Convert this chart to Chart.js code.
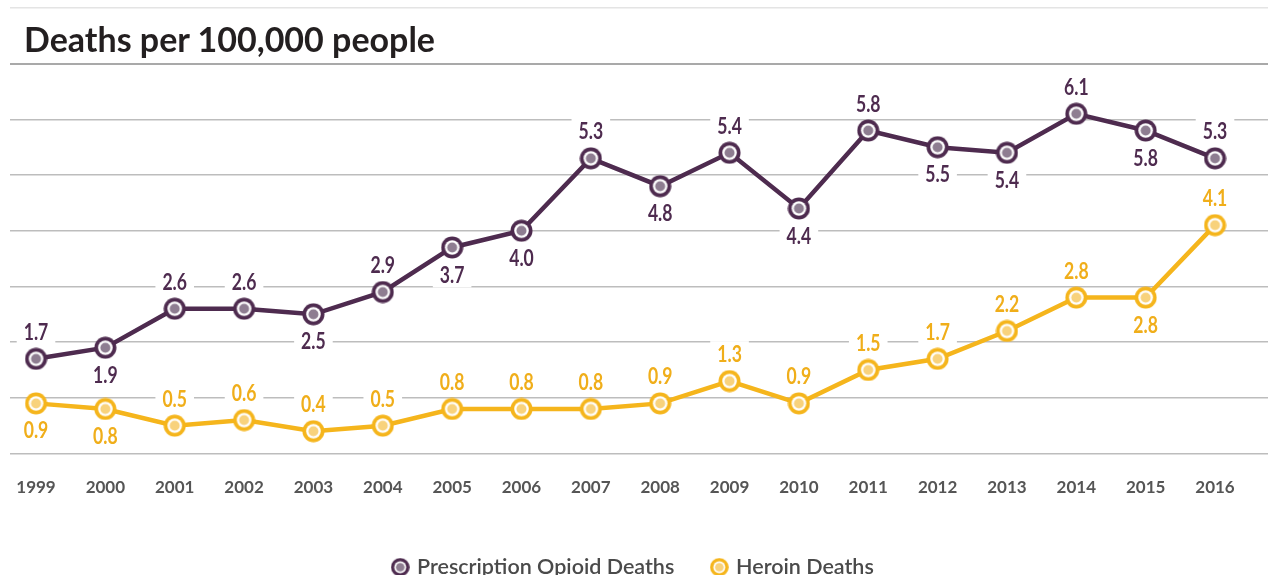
<!DOCTYPE html>
<html>
<head>
<meta charset="utf-8">
<script src="https://cdn.jsdelivr.net/npm/chart.js@4/dist/chart.umd.min.js"></script>
<style>
  html, body { margin:0; padding:0; background:#fff; }
  #wrap { position:relative; width:1268px; height:575px; }
  #title { position:absolute; left:24px; top:19px; font-family:Lato, sans-serif; font-weight:700; font-size:34px; line-height:40px; color:#231f20; z-index:2; }
</style>
</head>
<body>
<div id="wrap">
  <div id="title">Deaths per 100,000 people</div>
  <canvas id="c" width="1268" height="575"></canvas>
</div>
<script>
// ---- data ----
const years = [1999,2000,2001,2002,2003,2004,2005,2006,2007,2008,2009,2010,2011,2012,2013,2014,2015,2016];
const prescriptionDeaths = [1.7,1.9,2.6,2.6,2.5,2.9,3.7,4.0,5.3,4.8,5.4,4.4,5.8,5.5,5.4,6.1,5.8,5.3];
const heroinDeaths = [0.9,0.8,0.5,0.6,0.4,0.5,0.8,0.8,0.8,0.9,1.3,0.9,1.5,1.7,2.2,2.8,2.8,4.1];
const seriesNames = ['Prescription Opioid Deaths','Heroin Deaths'];
const yTicks = [0,1,2,3,4,5,6,7,8];
// label placement (a = above, b = below)
const prescriptionLabelSide = ['a','b','a','a','b','a','b','b','a','b','a','b','a','b','b','a','b','a'];
const heroinLabelSide = ['b','b','a','a','a','a','a','a','a','a','a','a','a','a','a','a','b','a'];

// ---- styles ----
const PURPLE = '#4e2b4f', PURPLE_IN = '#8e7d91';
const YELLOW = '#f5b51c', YELLOW_IN = '#f8d27c';

function makeMarker(outer, inner, size, rOut, rWhite, rIn) {
  const cv = document.createElement('canvas');
  cv.width = size; cv.height = size;
  const g = cv.getContext('2d');
  const c = size / 2;
  g.beginPath(); g.arc(c,c,rOut,0,Math.PI*2); g.fillStyle = outer; g.fill();
  g.beginPath(); g.arc(c,c,rWhite,0,Math.PI*2); g.fillStyle = '#fff'; g.fill();
  g.beginPath(); g.arc(c,c,rIn,0,Math.PI*2); g.fillStyle = inner; g.fill();
  return cv;
}
const purpleMarker = makeMarker(PURPLE, PURPLE_IN, 23, 11, 7.3, 5);
const yellowMarker = makeMarker(YELLOW, YELLOW_IN, 23, 11, 7.3, 5);
const purpleLegend = makeMarker(PURPLE, PURPLE_IN, 19, 9.3, 6, 4.3);
const yellowLegend = makeMarker(YELLOW, YELLOW_IN, 19, 9.3, 6, 4.3);
const legendMarkers = [purpleLegend, yellowLegend];

const labelFont = 'bold 22px Lato, sans-serif';
const SQUEEZE = 0.8;
const sides = [prescriptionLabelSide, heroinLabelSide];
const labelColors = [PURPLE, '#f0ae1a'];
const OFFSET = 27;

function labelBoxes(chart, cb) {
  chart.data.datasets.forEach((ds, di) => {
    const meta = chart.getDatasetMeta(di);
    meta.data.forEach((pt, i) => {
      const txt = ds.data[i].y.toFixed(1);
      const y = sides[di][i] === 'a' ? pt.y - OFFSET : pt.y + OFFSET;
      cb(di, txt, pt.x, y);
    });
  });
}

const dataLabelPlugin = {
  id: 'dataLabels',
  beforeDatasetsDraw(chart) {
    const ctx = chart.ctx;
    ctx.save();
    ctx.font = labelFont;
    labelBoxes(chart, (di, txt, x, y) => {
      const w = ctx.measureText(txt).width * SQUEEZE + 14;
      ctx.fillStyle = '#fff';
      ctx.fillRect(x - w/2, y - 13, w, 26);
    });
    ctx.restore();
  },
  afterDatasetsDraw(chart) {
    const ctx = chart.ctx;
    ctx.save();
    ctx.font = labelFont;
    ctx.textAlign = 'center';
    ctx.textBaseline = 'middle';
    labelBoxes(chart, (di, txt, x, y) => {
      ctx.save();
      ctx.translate(x, y + 1);
      ctx.scale(SQUEEZE, 1);
      ctx.fillStyle = labelColors[di];
      ctx.fillText(txt, 0, 0);
      ctx.restore();
    });
    ctx.restore();
  }
};

new Chart(document.getElementById('c'), {
  type: 'line',
  data: {
    datasets: [
      { label: seriesNames[0], data: years.map((yr,i)=>({x:yr, y:prescriptionDeaths[i]})),
        borderColor: PURPLE, borderWidth: 4.5, pointStyle: purpleMarker, pointRadius: 11, pointHoverRadius: 11, fill:false, tension:0 },
      { label: seriesNames[1], data: years.map((yr,i)=>({x:yr, y:heroinDeaths[i]})),
        borderColor: YELLOW, borderWidth: 4.5, pointStyle: yellowMarker, pointRadius: 11, pointHoverRadius: 11, fill:false, tension:0 }
    ]
  },
  options: {
    responsive: false,
    animation: false,
    layout: { autoPadding: false, padding: { left: 0, right: 0, top: 8, bottom: -13 } },
    plugins: {
      tooltip: { enabled: false },
      legend: {
        position: 'bottom',
        labels: {
          usePointStyle: true,
          boxWidth: 12,
          font: { family: 'Lato, sans-serif', size: 21.5, weight: '600' },
          color: '#4a4a4a',
          padding: 39,
          generateLabels: chart => {
            const items = Chart.defaults.plugins.legend.labels.generateLabels(chart);
            items.forEach((it, i) => { it.pointStyle = legendMarkers[i]; });
            return items;
          }
        }
      }
    },
    scales: {
      x: {
        type: 'linear',
        min: 1998.625, max: 2016.764,
        afterBuildTicks: s => { s.ticks = years.map(v => ({ value: v })); },
        afterFit: s => { s.height = 64; s.paddingLeft = 0; s.paddingRight = 0; },
        grid: { display: false, drawTicks: false },
        border: { display: false },
        ticks: {
          padding: 24,
          autoSkip: false,
          maxRotation: 0,
          callback: v => String(v),
          font: { family: 'Lato, sans-serif', size: 17, weight: '700' },
          color: '#555'
        }
      },
      y: {
        min: 0, max: 8,
        afterBuildTicks: s => { s.ticks = yTicks.map(v => ({ value: v })); },
        afterFit: s => { s.width = 10; },
        ticks: { display: false },
        border: { display: false },
        grid: {
          drawTicks: false,
          color: c => c.tick && c.tick.value === 8 ? '#e4e4e4' : (c.tick && c.tick.value === 7 ? '#a9a9a9' : '#bdbdbd'),
          lineWidth: c => c.tick && c.tick.value === 7 ? 2 : 1.5
        }
      }
    }
  },
  plugins: [dataLabelPlugin]
});
</script>
</body>
</html>
